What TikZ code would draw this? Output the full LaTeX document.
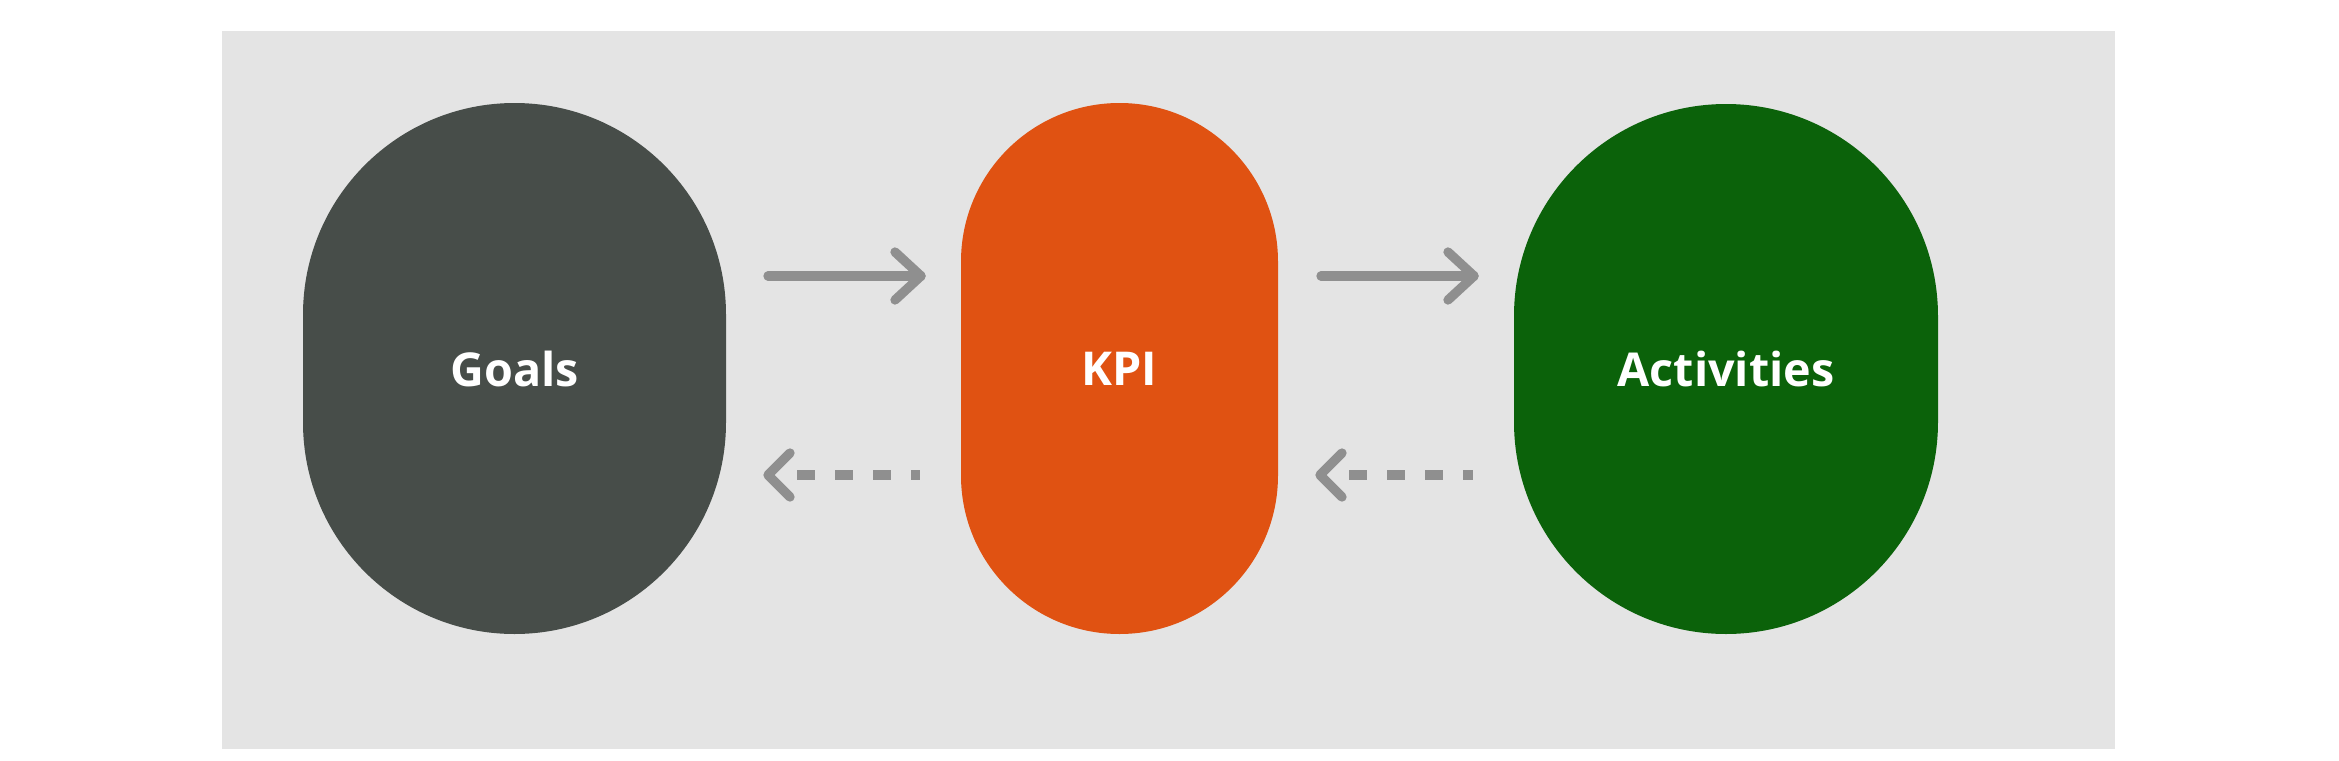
\documentclass[tikz,border=0pt]{standalone}
\usepackage{fontspec}
\setmainfont{Open Sans}
\begin{document}
\begin{tikzpicture}[x=0.3pt,y=-0.3pt,
  pill/.style={draw=none,inner sep=0pt,text=white,font=\fontsize{14}{17}\selectfont\bfseries},
  arr/.style={draw=arrowgray,line width=2.8pt,line cap=round},
  dasharr/.style={draw=arrowgray,line width=2.8pt,line cap=butt,dash pattern=on 5.4pt off 6pt},
  head/.style={draw=arrowgray,line width=2.8pt,line cap=round,line join=round}]
\definecolor{bg}{HTML}{E4E4E4}
\definecolor{goalc}{HTML}{474D49}
\definecolor{kpic}{HTML}{E05212}
\definecolor{actc}{HTML}{0B620A}
\definecolor{arrowgray}{HTML}{8F8F8F}
\useasboundingbox (0,0) rectangle (2339,761);
\fill[white] (0,0) rectangle (2339,761);
\fill[bg] (222,31) rectangle (2115,749);
\node[pill,fill=goalc,minimum width=423*0.3pt,minimum height=531*0.3pt,rounded corners=211.5*0.3pt] (goals) at (514.5,368.5) {Goals};
\node[pill,fill=kpic,minimum width=317*0.3pt,minimum height=531*0.3pt,rounded corners=158.5*0.3pt] (kpi) at (1119.5,368.5) {KPI};
\node[pill,fill=actc,minimum width=424*0.3pt,minimum height=530*0.3pt,rounded corners=212*0.3pt] (act) at (1726,369) {Activities};
% solid arrows
\coordinate (a1s) at (768,276); \coordinate (a1e) at (921,276);
\coordinate (a2s) at (1321,276); \coordinate (a2e) at (1474,276);
\draw[arr] (a1s) -- (a1e);
\draw[head] ([shift={(-26,-24)}]a1e) -- (a1e) -- ([shift={(-26,24)}]a1e);
\draw[arr] (a2s) -- (a2e);
\draw[head] ([shift={(-26,-24)}]a2e) -- (a2e) -- ([shift={(-26,24)}]a2e);
% dashed arrows
\coordinate (b1s) at (920,475); \coordinate (b1d) at (797,475); \coordinate (b1e) at (768,475);
\coordinate (b2s) at (1473,475); \coordinate (b2d) at (1349,475); \coordinate (b2e) at (1320,475);
\draw[dasharr] (b1d) -- (b1s);
\draw[head] ([shift={(22,-22)}]b1e) -- (b1e) -- ([shift={(22,22)}]b1e);
\draw[dasharr] (b2d) -- (b2s);
\draw[head] ([shift={(22,-22)}]b2e) -- (b2e) -- ([shift={(22,22)}]b2e);
\end{tikzpicture}
\end{document}
